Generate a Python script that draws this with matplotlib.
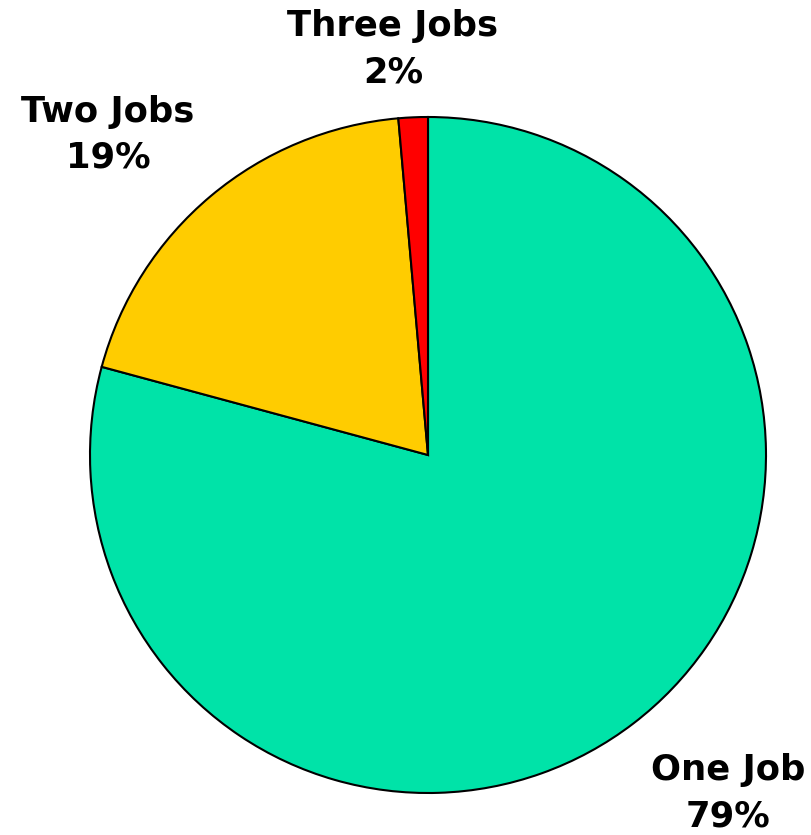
""" Pie chart of number of jobs held """
import matplotlib
matplotlib.use('Agg')
import matplotlib.pyplot as plt

labels = ['One Job', 'Two Jobs', 'Three Jobs']
shares = [79.2, 19.4, 1.4]
pct_labels = ['79%', '19%', '2%']
colors = ['#00E3A8', '#FFCC00', '#FF0000']

# label centres in axes data units (pie radius = 1)
label_pos = [(0.888, -1.0), (-0.947, 0.947), (-0.104, 1.2)]


def plot_pie():
    """ Draw the pie with labels outside """
    fig = plt.figure(figsize=(8.11, 8.35), dpi=100)
    ax = fig.add_axes([90 / 811, 42 / 835, 676 / 811, 676 / 835])
    ax.pie(shares, colors=colors, startangle=90, counterclock=False,
           radius=1, wedgeprops={'edgecolor': 'black', 'linewidth': 1.5})
    ax.set_xlim(-1, 1)
    ax.set_ylim(-1, 1)
    ax.set_aspect('auto')
    ax.axis('off')

    for name, pct, (x, y) in zip(labels, pct_labels, label_pos):
        ax.text(x, y, f'{name}\n{pct}', ha='center', va='center',
                fontsize=25.5, fontweight='bold', linespacing=1.45,
                clip_on=False)

    fig.savefig('out.png', dpi=100)


if __name__ == '__main__':
    plot_pie()
